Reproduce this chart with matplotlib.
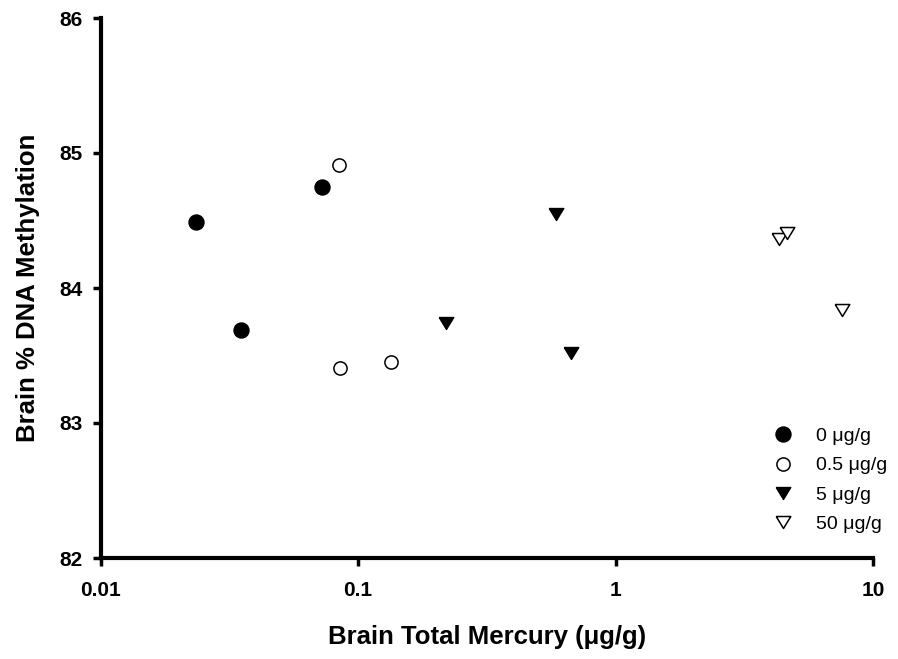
import matplotlib
matplotlib.use("Agg")
import matplotlib.pyplot as plt
import numpy as np

plt.rcParams['font.family'] = ['Liberation Sans', 'DejaVu Sans']

# Brain total mercury (ug/g) and % DNA methylation per dose group
hg_0 = [0.0235, 0.035, 0.0722]
meth_0 = [84.49, 83.69, 84.75]

hg_05 = [0.0841, 0.0851, 0.134]
meth_05 = [84.91, 83.41, 83.45]

hg_5 = [0.220, 0.590, 0.669]
meth_5 = [83.74, 84.55, 83.52]

hg_50 = [4.33, 4.62, 7.56]
meth_50 = [84.36, 84.41, 83.84]

labels = ["0 \u03bcg/g", "0.5 \u03bcg/g", "5 \u03bcg/g", "50 \u03bcg/g"]

# slightly flattened down-pointing triangle
tri = [(-1, 0.82), (1, 0.82), (0, -0.82), (-1, 0.82)]

fig = plt.figure(figsize=(8.98, 6.59), dpi=100)
ax = fig.add_axes([100.5 / 898, 1 - 558 / 659, (873 - 100.5) / 898, (558 - 18) / 659])

ax.plot(hg_0, meth_0, linestyle='none', marker='o', markersize=10.8,
        markerfacecolor='black', markeredgecolor='black', label=labels[0])
ax.plot(hg_05, meth_05, linestyle='none', marker='o', markersize=9.5,
        markerfacecolor='white', markeredgecolor='black', markeredgewidth=1.1, label=labels[1])
ax.plot(hg_5, meth_5, linestyle='none', marker=tri, markersize=10.5,
        markerfacecolor='black', markeredgecolor='black', label=labels[2])
ax.plot(hg_50, meth_50, linestyle='none', marker=tri, markersize=10.5,
        markerfacecolor='white', markeredgecolor='black', markeredgewidth=1.1, label=labels[3])

ax.set_xscale('log')
ax.set_xlim(0.01, 10)
ax.set_ylim(82, 86)
ax.set_xticks([0.01, 0.1, 1, 10])
ax.set_xticklabels(["0.01", "0.1", "1", "10"])
ax.xaxis.set_minor_locator(matplotlib.ticker.NullLocator())
ax.set_yticks([82, 83, 84, 85, 86])

for s in ['top', 'right']:
    ax.spines[s].set_visible(False)
for s in ['left', 'bottom']:
    ax.spines[s].set_linewidth(3)
ax.tick_params(direction='out', length=5.8, width=2.5, labelsize=15)
ax.tick_params(axis='x', pad=11)
ax.tick_params(axis='y', pad=7)
for lbl in ax.get_xticklabels() + ax.get_yticklabels():
    lbl.set_fontweight('bold')

ax.set_xlabel("Brain Total Mercury (\u03bcg/g)", fontsize=18.5, fontweight='bold', labelpad=18)
ax.set_ylabel("Brain % DNA Methylation", fontsize=18.5, fontweight='bold', labelpad=14)

ax.legend(loc='lower right', bbox_to_anchor=(887 / 898, 1 - 533 / 659),
          bbox_transform=fig.transFigure, frameon=False, fontsize=14,
          handlelength=1.0, handletextpad=1.2, labelspacing=0.6,
          borderpad=0, borderaxespad=0)

fig.savefig("out.png", dpi=100)
